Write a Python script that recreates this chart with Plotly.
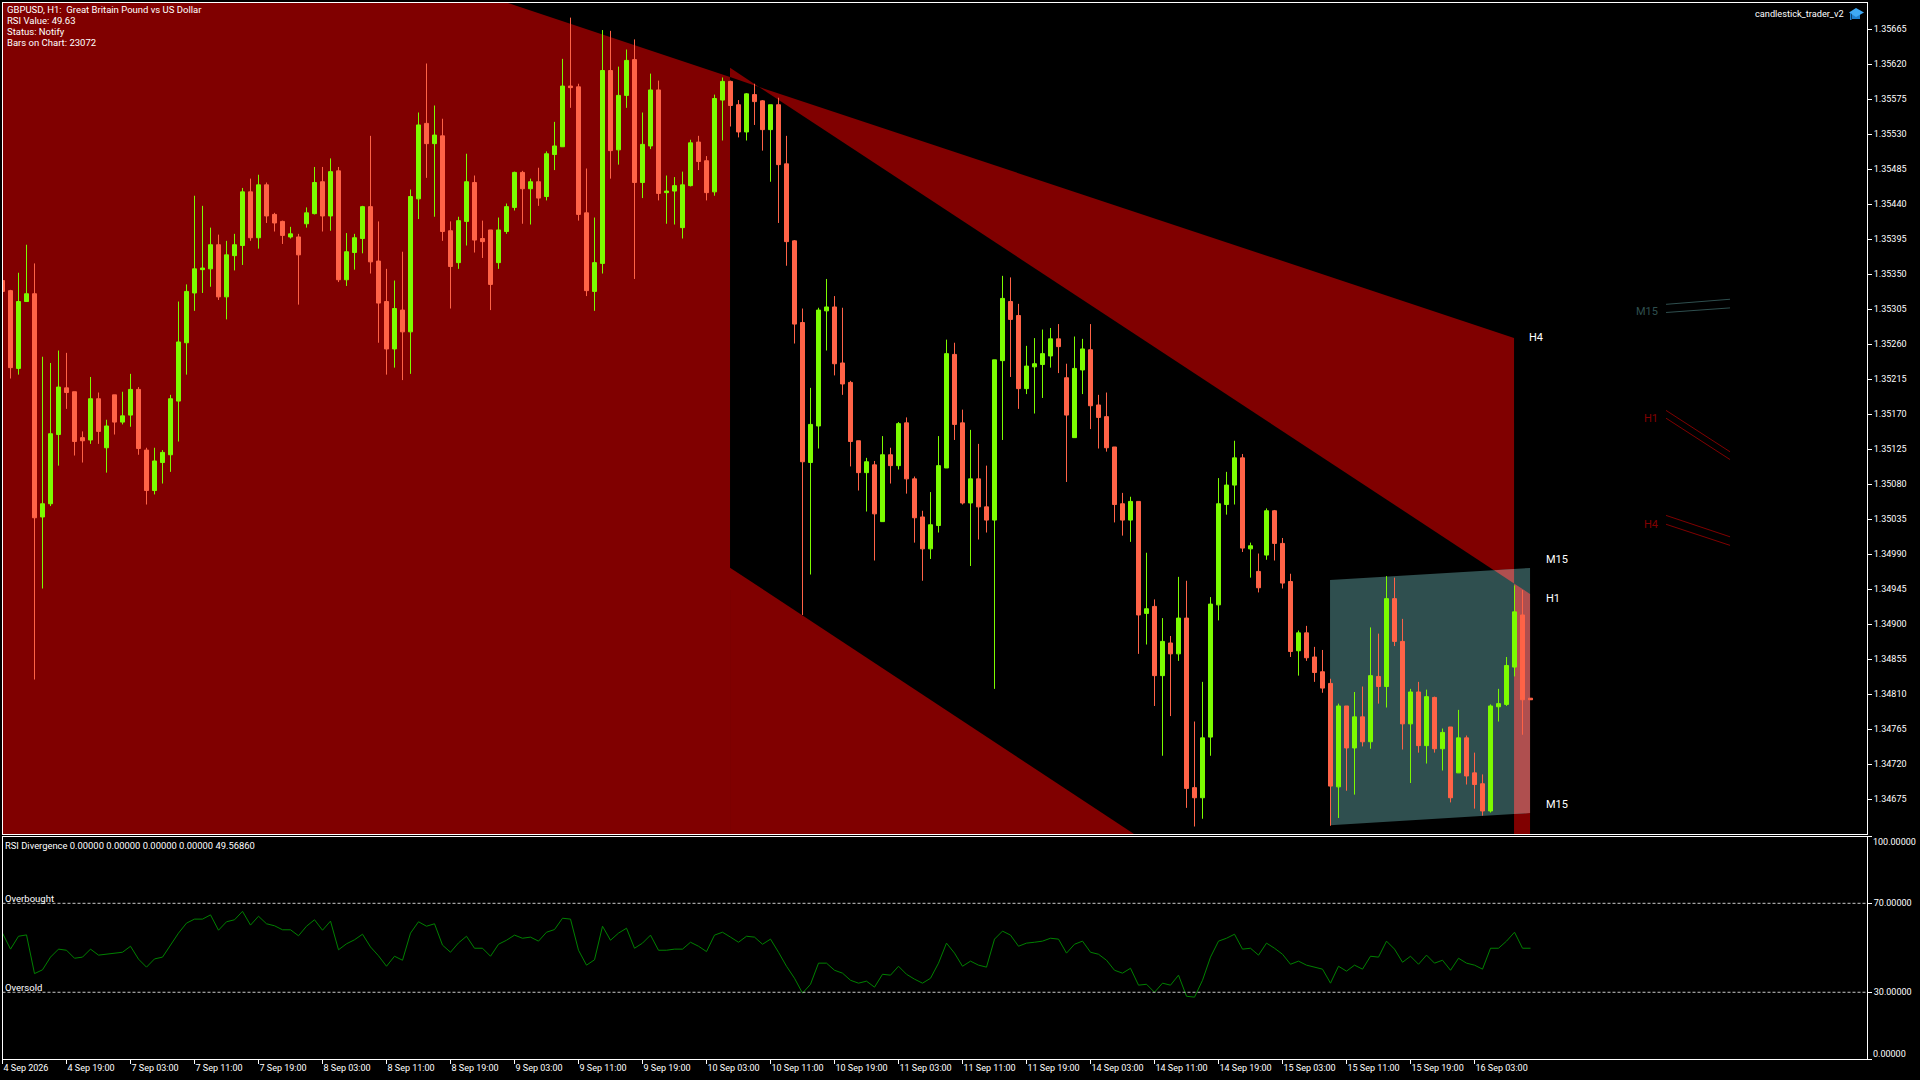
import plotly.graph_objects as go

W = 1920
H = 1080

# prices are kept in points (1/100000)
opens = [135342,135329,135229,135315,135325,135038,135055,135144,135204,135199,135140,135137,135190,135127,135195,135160,
135169,135202,135124,135072,135108,135118,135187,135262,135326,135356,135357,135388,135321,135374,135387,135456,
135397,135465,135427,135418,135398,135398,135415,135428,135469,135425,135483,135343,135378,135396,135437,135367,
135315,135254,135304,135276,135447,135544,135518,135528,135406,135365,135418,135468,135396,135407,135365,135405,
135436,135481,135460,135469,135450,135504,135514,135592,135591,135429,135328,135364,135612,135510,135580,135626,
135468,135515,135587,135455,135457,135410,135464,135520,135496,135456,135574,135598,135568,135533,135581,135573,
135536,135568,135492,135393,135288,135108,135155,135303,135308,135236,135211,135136,135095,135105,135032,135118,
135104,135159,135087,135038,134997,135027,135101,135247,135159,135056,135087,135051,135034,135239,135315,135297,
135203,135231,135234,135245,135267,135217,135140,135227,135253,135182,135167,135128,135055,135034,135058,134914,
134923,134834,134876,134862,134908,134690,134677,134755,134925,135054,135079,135114,134997,134968,134989,135046,
135004,134955,134866,134889,134858,134839,134824,134691,134795,134741,134781,134749,134833,134820,134933,134878,
134772,134813,134744,134806,134740,134768,134709,134754,134709,134695,134660,134794,134797,134845,134912,134805]

highs = [135350,135330,135352,135388,135364,135244,135236,135252,135249,135199,135148,135218,135198,135163,135195,135199,
135222,135205,135127,135127,135124,135195,135315,135337,135451,135438,135410,135401,135393,135402,135461,135473,
135478,135468,135429,135419,135411,135402,135436,135488,135488,135499,135488,135403,135402,135438,135528,135418,
135357,135342,135379,135459,135558,135621,135567,135550,135418,135424,135505,135477,135419,135407,135423,135441,
135482,135483,135473,135487,135508,135546,135627,135680,135595,135486,135423,135664,135663,135617,135639,135652,
135558,135608,135599,135477,135475,135482,135523,135528,135502,135581,135603,135599,135574,135583,135595,135574,
135568,135577,135528,135394,135306,135204,135307,135344,135322,135307,135213,135136,135114,135110,135142,135127,
135160,135166,135090,135046,135070,135142,135266,135262,135176,135150,135132,135104,135240,135348,135346,135312,
135258,135268,135279,135281,135286,135235,135270,135267,135286,135195,135198,135128,135069,135064,135058,134992,
134932,134908,134885,134961,134956,134775,134826,134935,135088,135096,135136,135119,135005,134991,135049,135047,
135011,134965,134892,134898,134871,134867,134830,134798,134795,134813,134820,134896,134888,134962,134960,134907,
134817,134826,134816,134807,134766,134768,134790,134757,134735,134707,134797,134817,134858,134950,134944,134805]

lows = [135320,135216,135221,135315,134829,134946,135052,135104,135177,135117,135108,135132,135132,135095,135144,135157,
135154,135118,135054,135067,135081,135096,135135,135221,135303,135326,135334,135317,135292,135355,135362,135393,
135383,135416,135405,135389,135396,135311,135410,135427,135405,135406,135340,135335,135356,135377,135351,135262,
135221,135230,135214,135222,135421,135474,135424,135393,135306,135357,135387,135378,135371,135304,135357,135402,
135432,135415,135414,135438,135445,135484,135514,135564,135419,135322,135303,135351,135473,135491,135564,135344,
135448,135511,135445,135415,135414,135396,135463,135484,135445,135451,135522,135540,135526,135522,135542,135509,
135469,135416,135361,135261,134912,134964,135126,135252,135220,135195,135103,135072,135045,134982,135032,135081,
135099,135068,135005,134956,134984,135018,135101,135137,135054,134975,135009,135018,134817,135137,135218,135177,
135196,135171,135191,135230,135223,135083,135140,135196,135151,135126,135122,135031,135014,135006,134862,134874,
134795,134731,134782,134853,134664,134640,134650,134731,134905,135041,135054,134993,134960,134941,134983,134982,
134946,134858,134834,134853,134826,134812,134641,134651,134686,134681,134743,134740,134798,134793,134872,134739,
134696,134735,134721,134735,134712,134671,134709,134694,134663,134654,134658,134775,134795,134833,134758,134803]

closes = [135328,135230,135315,135325,135037,135055,135145,135205,135198,135135,135136,135190,135148,135155,135160,135168,
135202,135126,135072,135110,135121,135190,135263,135328,135357,135358,135388,135321,135375,135388,135456,135397,
135465,135425,135416,135400,135402,135375,135429,135468,135425,135482,135343,135379,135397,135437,135366,135313,
135254,135306,135276,135450,135542,135518,135529,135405,135360,135419,135469,135394,135392,135337,135407,135437,
135481,135460,135469,135448,135505,135515,135592,135590,135427,135329,135365,135612,135509,135580,135625,135468,
135517,135587,135454,135457,135464,135465,135519,135495,135455,135576,135598,135567,135533,135582,135572,135536,
135568,135491,135392,135286,135109,135157,135304,135308,135235,135209,135135,135095,135109,135042,135118,135104,
135158,135087,135037,134997,135028,135104,135248,135157,135056,135087,135051,135034,135240,135319,135292,135203,
135232,135235,135248,135267,135257,135169,135229,135254,135181,135166,135127,135054,135034,135058,134912,134920,
134834,134878,134862,134908,134689,134677,134754,134926,135055,135079,135114,134998,135001,134947,135046,135004,
134953,134865,134889,134857,134838,134818,134692,134795,134741,134781,134749,134834,134820,134933,134878,134772,
134813,134744,134807,134740,134761,134677,134754,134705,134694,134660,134795,134798,134847,134916,134803,134803]

rsi_values = [56.6,49.4,55.2,55.8,38.4,40.1,45.8,49.4,48.9,45.3,45.8,49.4,46.7,47.1,47.6,48.0,
50.7,44.9,41.3,45.0,45.8,51.2,56.6,61.1,62.9,62.9,64.8,57.9,61.7,62.6,66.4,60.2,
64.2,60.8,59.9,58.1,58.1,55.4,59.7,62.6,57.9,62.0,49.1,51.8,53.6,56.1,50.4,46.4,
41.7,46.2,44.4,56.6,61.7,59.7,60.8,51.2,48.0,52.2,55.2,49.8,49.8,46.2,51.6,53.4,
55.7,54.3,54.8,53.0,57.0,58.2,63.3,62.9,48.9,42.2,44.6,59.7,53.4,56.6,58.8,49.8,
52.1,55.7,48.9,48.9,49.4,49.4,52.5,50.7,48.3,55.7,57.0,54.8,52.5,55.2,54.8,51.6,
53.9,48.0,41.7,36.3,29.6,33.6,43.1,43.1,39.9,38.6,35.4,34.1,35.0,32.3,38.1,37.7,
41.7,38.1,35.9,34.1,36.3,43.1,52.1,47.6,41.7,44.0,42.2,41.3,53.9,57.5,55.7,50.7,
52.1,52.5,53.0,54.3,53.9,47.6,51.6,53.0,48.0,47.1,44.4,39.9,38.6,40.8,33.2,33.6,
30.0,34.1,33.2,37.7,28.2,27.8,35.4,45.8,53.0,54.3,56.1,49.4,49.8,46.7,52.1,49.8,
47.1,42.6,44.0,42.2,41.3,40.4,34.1,41.7,39.5,42.2,40.4,46.2,45.8,53.0,49.4,43.5,
46.2,42.6,46.7,43.1,44.4,39.9,45.3,43.1,42.2,40.4,49.8,49.8,53.0,57.0,49.8,49.8]

price_ticks = [135665,135620,135575,135530,135485,135440,135395,135350,135305,135260,135215,135170,135125,135080,135035,134990,
134945,134900,134855,134810,134765,134720,134675]

time_labels = ["4 Sep 2026","4 Sep 19:00","7 Sep 03:00","7 Sep 11:00","7 Sep 19:00","8 Sep 03:00","8 Sep 11:00","8 Sep 19:00",
"9 Sep 03:00","9 Sep 11:00","9 Sep 19:00","10 Sep 03:00","10 Sep 11:00","10 Sep 19:00","11 Sep 03:00","11 Sep 11:00",
"11 Sep 19:00","14 Sep 03:00","14 Sep 11:00","14 Sep 19:00","15 Sep 03:00","15 Sep 11:00","15 Sep 19:00","16 Sep 03:00"]

rsi_ticks = [100, 70, 30, 0]

PRICE_TOP = 135698.8
PRICE_BOTTOM = 134630.4
LAST_BAR = 233.06

# filled zones: (bar index, price in points), one polygon each
zone_left = [(0, PRICE_BOTTOM), (0, PRICE_TOP), (63.19, PRICE_TOP), (90.94, 135603.7), (90.94, PRICE_BOTTOM)]
zone_tip = [(90.94, 135615.6), (94.56, 135590.9), (90.94, 135603.7)]
zone_wedge = [(94.56, 135590.9), (188.94, 135268.1), (188.94, 134952.6)]
zone_lower = [(90.94, 134972.8), (141.44, PRICE_BOTTOM), (90.94, PRICE_BOTTOM)]
zone_column = [(188.94, 134952.6), (190.94, 134939.1), (190.94, PRICE_BOTTOM), (188.94, PRICE_BOTTOM)]
zone_m15 = [(165.94, 134957.0), (190.94, 134972.4), (190.94, 134657.4), (165.94, 134641.6)]
zone_mix_top = [(186.44, 134969.4), (188.94, 134971.1), (188.94, 134952.6)]
zone_mix_col = [(188.94, 134952.6), (190.94, 134939.1), (190.94, 134657.4), (188.94, 134656.1)]

# small channel stubs right of the last bar
stub_bars = [207.94, 215.94]
m15_upper = [135311.4, 135317.9]
m15_lower = [135300.9, 135306.8]
h1_upper = [135175.0, 135121.8]
h1_lower = [135165.0, 135111.8]
h4_upper = [135040.0, 135012.5]
h4_lower = [135028.6, 135001.5]

FONT = "Roboto"
FS = 9.5
TICK_FS = 9
WHITE = "#ffffff"
CANDLE_UP = "#7CFC00"
CANDLE_DOWN = "#FF6347"
RED = "#800000"
TEAL = "#2F4F4F"
MIX = "#AF4F4F"


def px(x):
    return x / W


def py(y):
    return 1 - y / H


def to_price(values):
    return [v / 100000 for v in values]


def poly_path(points):
    parts = [f"{b},{p / 100000:.6f}" for b, p in points]
    return "M" + " L".join(parts) + " Z"


def zone_shape(points, color):
    return dict(type="path", path=poly_path(points), xref="x", yref="y", layer="below",
                fillcolor=color, line=dict(width=0))


def label(text, x, y, color=WHITE, anchor="left", size=FS):
    return dict(text=text, xref="paper", yref="paper", x=px(x), y=py(y), xanchor=anchor, yanchor="middle",
                showarrow=False, font=dict(family=FONT, size=size, color=color), borderpad=0, borderwidth=0)


bars = list(range(len(opens)))

fig = go.Figure()

fig.add_trace(go.Candlestick(
    x=bars, open=to_price(opens), high=to_price(highs), low=to_price(lows), close=to_price(closes),
    whiskerwidth=0,
    increasing=dict(line=dict(color=CANDLE_UP, width=1), fillcolor=CANDLE_UP),
    decreasing=dict(line=dict(color=CANDLE_DOWN, width=1), fillcolor=CANDLE_DOWN),
    xaxis="x", yaxis="y", hoverinfo="skip"))

# channel stubs
for vals, col in [(m15_upper, TEAL), (m15_lower, TEAL), (h1_upper, RED), (h1_lower, RED), (h4_upper, RED), (h4_lower, RED)]:
    fig.add_trace(go.Scatter(x=stub_bars, y=to_price(vals), mode="lines", line=dict(color=col, width=1),
                             xaxis="x", yaxis="y", hoverinfo="skip"))

# RSI pane
fig.add_trace(go.Scatter(x=bars, y=rsi_values, mode="lines", line=dict(color="#008000", width=1),
                         xaxis="x2", yaxis="y2", hoverinfo="skip"))

shapes = [zone_shape(zone_left, RED), zone_shape(zone_tip, RED), zone_shape(zone_wedge, RED), zone_shape(zone_lower, RED),
          zone_shape(zone_column, RED), zone_shape(zone_m15, TEAL), zone_shape(zone_mix_top, MIX), zone_shape(zone_mix_col, MIX)]

for level in [70, 30]:
    shapes.append(dict(type="line", xref="x2", yref="y2", x0=0, x1=LAST_BAR, y0=level, y1=level,
                       line=dict(color="#C8C8C8", width=1, dash="3px,2px")))

# mortar board icon at top right
shapes.append(dict(type="path", xref="paper", yref="paper", fillcolor="#1E7FD0", line=dict(width=0),
                   path=f"M{px(1852)},{py(14)} L{px(1860)},{py(14)} L{px(1860)},{py(19)} L{px(1852)},{py(19)} Z"))
shapes.append(dict(type="path", xref="paper", yref="paper", fillcolor="#3FA9F5", line=dict(width=0),
                   path=f"M{px(1849)},{py(12.5)} L{px(1856)},{py(8)} L{px(1864)},{py(12.5)} L{px(1856)},{py(17)} Z"))
shapes.append(dict(type="rect", xref="paper", yref="paper", fillcolor="#1E7FD0", line=dict(width=0),
                   x0=px(1850), x1=px(1851.5), y0=py(13), y1=py(20)))

annotations = [
    label("GBPUSD, H1:\u00a0 Great Britain Pound vs US Dollar", 6.5, 9.5),
    label("RSI Value: 49.63", 6.5, 20.5),
    label("Status: Notify", 6.5, 31.5),
    label("Bars on Chart: 23072", 6.5, 42.5),
    label("candlestick_trader_v2", 1844, 13.5, anchor="right", size=9.2),
    label("H4", 1529, 337, size=11),
    label("M15", 1546, 559, size=11),
    label("H1", 1546, 598, size=11),
    label("M15", 1546, 804, size=11),
    label("M15", 1658, 312, color=TEAL, anchor="right", size=11),
    label("H1", 1658, 418, color=RED, anchor="right", size=11),
    label("H4", 1658, 524, color=RED, anchor="right", size=11),
    label("RSI Divergence 0.00000 0.00000 0.00000 0.00000 49.56860", 5, 845.5, size=9.4),
    label("Overbought", 5, 898),
    label("Oversold", 5, 987),
    label("100.00000", 1873, 842, size=TICK_FS),
    label("0.00000", 1873, 1053.5, size=TICK_FS),
]

common_axis = dict(showgrid=False, zeroline=False, showline=True, mirror=True, linecolor=WHITE, linewidth=1,
                   tickcolor=WHITE, tickwidth=1, ticklen=4, ticks="outside", fixedrange=True,
                   tickfont=dict(family=FONT, size=TICK_FS, color=WHITE))

fig.update_layout(
    width=W, height=H,
    margin=dict(l=0, r=0, t=0, b=0),
    paper_bgcolor="#000000", plot_bgcolor="#000000",
    showlegend=False, boxgap=0.5, boxgroupgap=0,
    shapes=shapes, annotations=annotations,
    xaxis=dict(common_axis, domain=[px(2.5), px(1867)], range=[0, LAST_BAR], rangeslider=dict(visible=False),
               anchor="y", showticklabels=False, ticks=""),
    yaxis=dict(common_axis, domain=[py(834), py(3)], range=[PRICE_BOTTOM / 100000, PRICE_TOP / 100000], side="right",
               anchor="x", tickmode="array", tickvals=to_price(price_ticks),
               ticktext=[f"{v / 100000:.5f}" for v in price_ticks]),
    xaxis2=dict(common_axis, domain=[px(2.5), px(1867)], range=[0, LAST_BAR], anchor="y2",
                tickmode="array", tickvals=[i * 8 for i in range(len(time_labels))], ticktext=time_labels,
                ticklabelposition="outside right", tickangle=0),
    yaxis2=dict(common_axis, domain=[py(1059), py(836.6)], range=[0, 100], side="right", anchor="x2",
                tickmode="array", tickvals=rsi_ticks, ticktext=["", "70.00000", "30.00000", ""]),
)

fig.write_html("out.html", config={"displayModeBar": False},
               post_script="document.body.style.margin='0';document.body.style.background='#000';")
